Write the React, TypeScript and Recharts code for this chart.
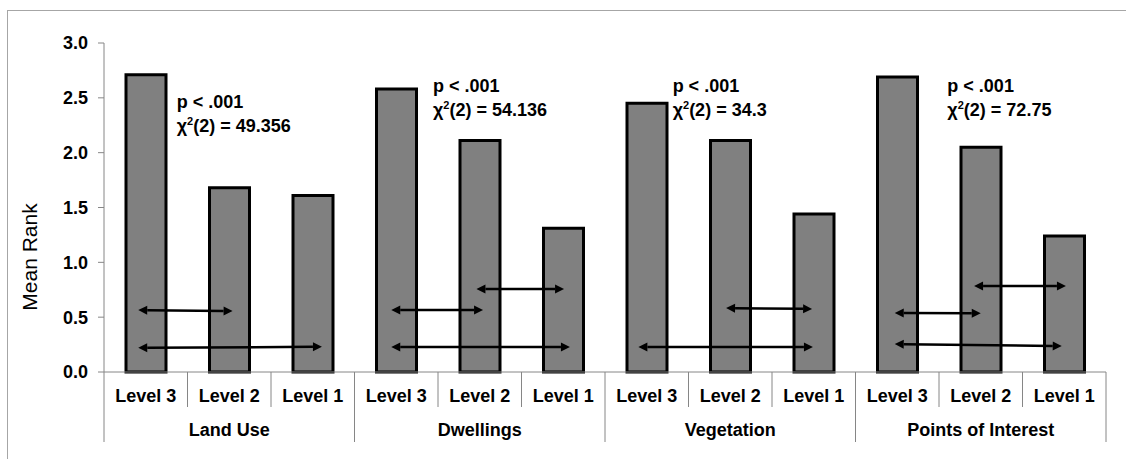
import { Bar, BarChart, Label, ReferenceDot, ReferenceLine, XAxis, YAxis } from "recharts";

const groups = ["Land Use", "Dwellings", "Vegetation", "Points of Interest"];
const levels = ["Level 3", "Level 2", "Level 1"];
const landUse = [2.71, 1.68, 1.61];
const dwellings = [2.58, 2.11, 1.31];
const vegetation = [2.45, 2.11, 1.44];
const pointsOfInterest = [2.69, 2.05, 1.24];
const yTicks = [0, 0.5, 1, 1.5, 2, 2.5, 3];

// Friedman test results, one per group
const pValues = ["p < .001", "p < .001", "p < .001", "p < .001"];
const chiValues = ["49.356", "54.136", "34.3", "72.75"];
// where each note sits: x in category units (0..12), y in mean rank
const noteX = [0.87, 3.94, 6.81, 10.1];
const noteY = [2.41, 2.55, 2.55, 2.55];

// pairwise comparison arrows: [x1, y1, x2, y2]
const arrows = [
  [0.41, 0.565, 1.54, 0.556],
  [0.41, 0.22, 2.61, 0.23],
  [4.46, 0.757, 5.51, 0.757],
  [3.44, 0.565, 4.54, 0.565],
  [3.44, 0.228, 5.58, 0.228],
  [7.45, 0.583, 8.48, 0.575],
  [6.4, 0.228, 8.49, 0.228],
  [10.42, 0.784, 11.52, 0.784],
  [9.47, 0.538, 10.5, 0.535],
  [9.47, 0.255, 11.47, 0.237],
];

const seriesByGroup = [landUse, dwellings, vegetation, pointsOfInterest];
const rows = groups.flatMap((group, g) =>
  levels.map((level, l) => ({
    id: `${g}-${l}`,
    pos: g * levels.length + l + 0.5,
    group,
    level,
    value: seriesByGroup[g][l],
  }))
);

const FONT = '"Liberation Sans", Arial, sans-serif';
const AXIS = "#868686";
const W = 1118;
const H = 448;
const MARGIN = { top: 32, right: 20, bottom: 7, left: 0 };
const Y_W = 96;
const BAND = (W - MARGIN.left - MARGIN.right - Y_W) / rows.length;

function LevelTick(props: any) {
  const { x, y, index } = props;
  const half = BAND / 2;
  const row = rows[index];
  const groupStart = index % 3 === 0;
  const last = index === rows.length - 1;
  return (
    <g>
      <line x1={x - half} y1={y} x2={x - half} y2={y + (groupStart ? 70 : 35)} stroke={AXIS} />
      {last && <line x1={x + half} y1={y} x2={x + half} y2={y + 70} stroke={AXIS} />}
      <text x={x} y={y + 30} textAnchor="middle" fontSize={18} fontWeight="bold" fill="#000" fontFamily={FONT}>
        {row.level}
      </text>
      {index % 3 === 1 && (
        <text x={x} y={y + 64} textAnchor="middle" fontSize={18} fontWeight="bold" fill="#000" fontFamily={FONT}>
          {row.group}
        </text>
      )}
    </g>
  );
}

function Arrow(props: any) {
  const { x1, y1, x2, y2 } = props;
  const a = Math.atan2(y2 - y1, x2 - x1);
  const dx = Math.cos(a);
  const dy = Math.sin(a);
  const len = 9;
  const hw = 4.5;
  const head = (tx: number, ty: number, s: number) => {
    const bx = tx - s * len * dx;
    const by = ty - s * len * dy;
    return `${tx},${ty} ${bx - hw * dy},${by + hw * dx} ${bx + hw * dy},${by - hw * dx}`;
  };
  return (
    <g>
      <line x1={x1 + len * dx} y1={y1 + len * dy} x2={x2 - len * dx} y2={y2 - len * dy} stroke="#000" strokeWidth={2.5} />
      <polygon points={head(x2, y2, 1)} fill="#000" />
      <polygon points={head(x1, y1, -1)} fill="#000" />
    </g>
  );
}

function Note({ cx, cy, i }: { cx: number; cy: number; i: number }) {
  return (
    <text x={cx} y={cy} fontSize={18} fontWeight="bold" fill="#000" fontFamily={FONT}>
      <tspan x={cx}>{pValues[i]}</tspan>
      <tspan x={cx} dy={24}>χ</tspan>
      <tspan fontSize={11} dy={-7}>2</tspan>
      <tspan fontSize={18} dy={7}>(2) = {chiValues[i]}</tspan>
    </text>
  );
}

export default function App() {
  return (
    <div
      style={{
        position: "absolute",
        top: 10,
        left: 7,
        width: W,
        height: H,
        borderTop: "1px solid #a6a6a6",
        borderLeft: "1px solid #a6a6a6",
        background: "#fff",
        fontFamily: FONT,
      }}
    >
      <BarChart width={W} height={H} data={rows} margin={MARGIN}>
        <XAxis
          dataKey="id"
          height={80}
          interval={0}
          tickSize={0}
          tickMargin={0}
          tickLine={false}
          axisLine={{ stroke: AXIS }}
          tick={<LevelTick />}
        />
        <XAxis xAxisId="num" dataKey="pos" type="number" domain={[0, 12]} allowDataOverflow hide />
        <YAxis
          width={Y_W}
          domain={[0, 3]}
          ticks={yTicks}
          interval={0}
          tickFormatter={(v: number) => v.toFixed(1)}
          tickSize={6}
          tickMargin={10}
          axisLine={{ stroke: AXIS }}
          tickLine={{ stroke: AXIS }}
          tick={{ fill: "#000", fontSize: 18, fontWeight: "bold", fontFamily: FONT }}
        >
          <Label
            content={() => (
              <text
                x={21}
                y={246}
                transform="rotate(-90, 21, 246)"
                textAnchor="middle"
                dominantBaseline="central"
                fontSize={21}
                fill="#000"
                fontFamily={FONT}
              >
                Mean Rank
              </text>
            )}
          />
        </YAxis>
        <Bar dataKey="value" fill="#808080" stroke="#000" strokeWidth={3} barSize={40} isAnimationActive={false} />
        {arrows.map((a, i) => (
          <ReferenceLine
            key={`arrow-${i}`}
            xAxisId="num"
            segment={[
              { x: a[0], y: a[1] },
              { x: a[2], y: a[3] },
            ]}
            shape={(p: any) => <Arrow {...p} />}
          />
        ))}
        {groups.map((g, i) => (
          <ReferenceDot
            key={`note-${g}`}
            xAxisId="num"
            x={noteX[i]}
            y={noteY[i]}
            shape={(p: any) => <Note cx={p.cx} cy={p.cy} i={i} />}
          />
        ))}
      </BarChart>
    </div>
  );
}
